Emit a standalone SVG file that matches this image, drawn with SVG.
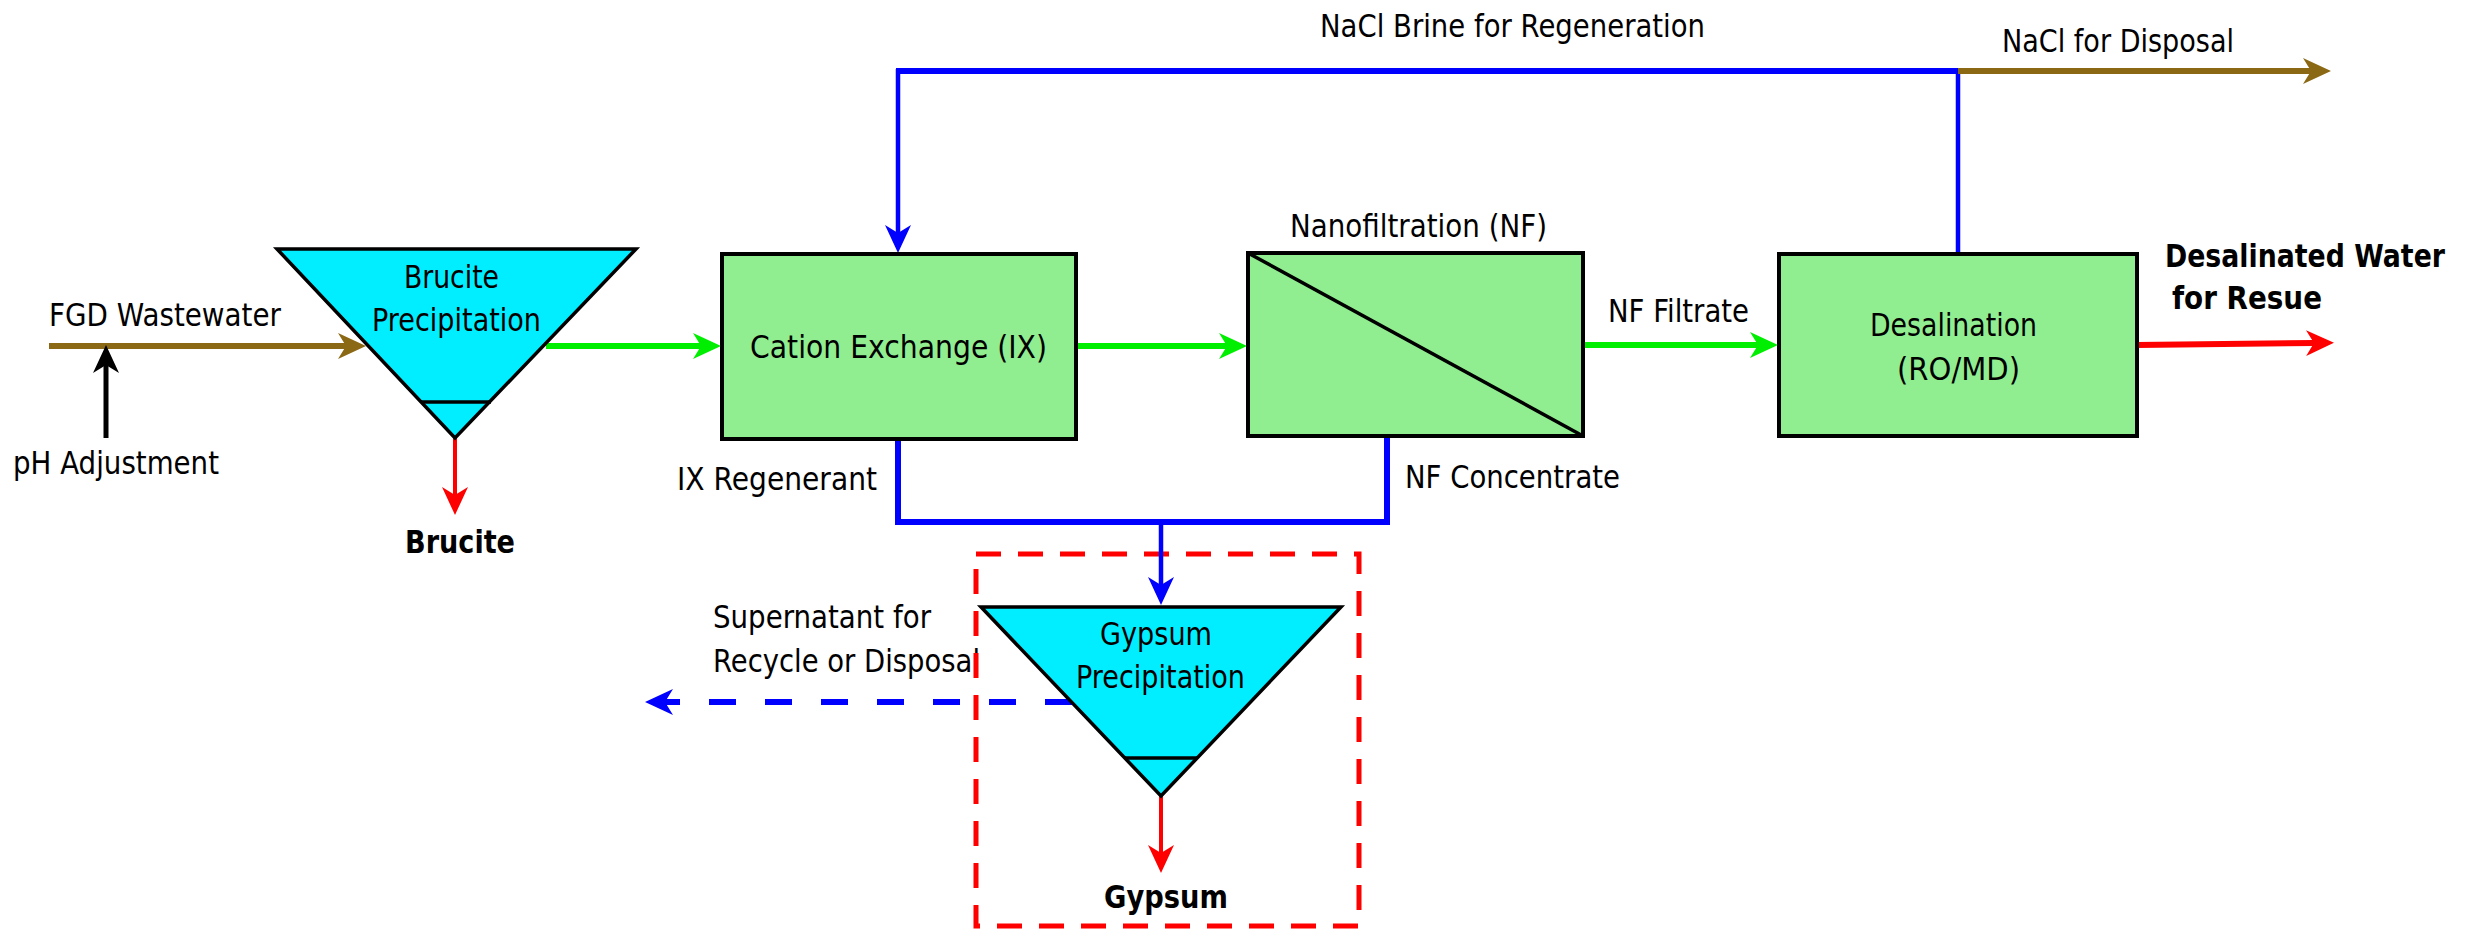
<svg xmlns="http://www.w3.org/2000/svg" width="2483" height="933" viewBox="0 0 2483 933">
<style>
text{font-family:"DejaVu Sans","Liberation Sans",sans-serif;font-size:32px;fill:#000}
.b{font-weight:bold}
.box{fill:#90EE90;stroke:#000;stroke-width:4}
.tank{fill:#00EEFF;stroke:#000;stroke-width:3.5;stroke-linejoin:miter}
.ln{fill:none;stroke:#000;stroke-width:3.5}
.c{fill:none;stroke-linecap:butt;stroke-linejoin:miter}
.blue{stroke:#0000FF}
.green{stroke:#00EE00}
.red{stroke:#FF0000}
.brown{stroke:#8B6914}
.black{stroke:#000}
</style>
<defs>
<marker id="aBlue" markerUnits="userSpaceOnUse" viewBox="0 -14 30 28" markerWidth="30" markerHeight="28" refX="8" refY="0" orient="auto"><path d="M28,0 L0,-13 L8,0 L0,13 Z" fill="#0000FF"/></marker>
<marker id="aGreen" markerUnits="userSpaceOnUse" viewBox="0 -14 30 28" markerWidth="30" markerHeight="28" refX="8" refY="0" orient="auto"><path d="M28,0 L0,-13 L8,0 L0,13 Z" fill="#00EE00"/></marker>
<marker id="aRed" markerUnits="userSpaceOnUse" viewBox="0 -14 30 28" markerWidth="30" markerHeight="28" refX="8" refY="0" orient="auto"><path d="M28,0 L0,-13 L8,0 L0,13 Z" fill="#FF0000"/></marker>
<marker id="aBrown" markerUnits="userSpaceOnUse" viewBox="0 -14 30 28" markerWidth="30" markerHeight="28" refX="8" refY="0" orient="auto"><path d="M28,0 L0,-13 L8,0 L0,13 Z" fill="#8B6914"/></marker>
<marker id="aBlack" markerUnits="userSpaceOnUse" viewBox="0 -14 30 28" markerWidth="30" markerHeight="28" refX="8" refY="0" orient="auto"><path d="M28,0 L0,-13 L8,0 L0,13 Z" fill="#000"/></marker>
</defs>
<rect width="2483" height="933" fill="#fff"/>

<g id="labels-supernatant">
<text x="713" y="628" textLength="218" lengthAdjust="spacingAndGlyphs">Supernatant for</text>
<text x="713" y="672" textLength="267" lengthAdjust="spacingAndGlyphs">Recycle or Disposal</text>
</g>

<g id="gypsum-boundary">
<rect x="976" y="554" width="383" height="372" fill="none" stroke="#FF0000" stroke-width="5" stroke-dasharray="25 17"/>
</g>

<g id="connectors">
<line class="c brown" stroke-width="6" x1="49" y1="346" x2="346" y2="346" marker-end="url(#aBrown)"/>
<line class="c black" stroke-width="5" x1="106" y1="438" x2="106" y2="365" marker-end="url(#aBlack)"/>
<line class="c red" stroke-width="4" x1="455" y1="438" x2="455" y2="495" marker-end="url(#aRed)"/>
<line class="c green" stroke-width="6" x1="546" y1="346" x2="701" y2="346" marker-end="url(#aGreen)"/>
<line class="c green" stroke-width="6" x1="1077" y1="346" x2="1227" y2="346" marker-end="url(#aGreen)"/>
<line class="c green" stroke-width="6" x1="1583" y1="345" x2="1758" y2="345" marker-end="url(#aGreen)"/>
<line class="c red" stroke-width="6" x1="2137" y1="345" x2="2314" y2="343" marker-end="url(#aRed)"/>
<line class="c blue" stroke-width="6" x1="896" y1="71" x2="1958" y2="71"/>
<line class="c blue" stroke-width="4.5" x1="898" y1="69" x2="898" y2="233" marker-end="url(#aBlue)"/>
<line class="c blue" stroke-width="4.5" x1="1958" y1="68" x2="1958" y2="253"/>
<line class="c brown" stroke-width="6" x1="1958" y1="71" x2="2311" y2="71" marker-end="url(#aBrown)"/>
<path class="c blue" stroke-width="6" d="M898,439 V522 H1387 V436"/>
<line class="c blue" stroke-width="4.5" x1="1161" y1="522" x2="1161" y2="585" marker-end="url(#aBlue)"/>
<line class="c red" stroke-width="4" x1="1161" y1="796" x2="1161" y2="853" marker-end="url(#aRed)"/>
<line class="c blue" stroke-width="6" x1="1072" y1="702" x2="665" y2="702" stroke-dasharray="27 29" marker-end="url(#aBlue)"/>
</g>

<g id="brucite-precipitation">
<polygon class="tank" points="277,249 636,249 455,438"/>
<line class="ln" x1="421" y1="402" x2="491" y2="402"/>
<text x="404" y="288" textLength="95" lengthAdjust="spacingAndGlyphs">Brucite</text>
<text x="372" y="331" textLength="169" lengthAdjust="spacingAndGlyphs">Precipitation</text>
</g>

<g id="cation-exchange">
<rect class="box" x="722" y="254" width="354" height="185"/>
<text x="750" y="358" textLength="297" lengthAdjust="spacingAndGlyphs">Cation Exchange (IX)</text>
</g>

<g id="nanofiltration">
<rect class="box" x="1248" y="253" width="335" height="183"/>
<line class="ln" x1="1248" y1="253" x2="1583" y2="436"/>
<text x="1290" y="237" textLength="257" lengthAdjust="spacingAndGlyphs">Nanofiltration (NF)</text>
</g>

<g id="desalination">
<rect class="box" x="1779" y="254" width="358" height="182"/>
<text x="1870" y="336" textLength="167" lengthAdjust="spacingAndGlyphs">Desalination</text>
<text x="1897" y="380" textLength="123" lengthAdjust="spacingAndGlyphs">(RO/MD)</text>
</g>

<g id="gypsum-precipitation">
<polygon class="tank" points="981,607 1341,607 1161,796"/>
<line class="ln" x1="1125" y1="758" x2="1197" y2="758"/>
<text x="1100" y="645" textLength="112" lengthAdjust="spacingAndGlyphs">Gypsum</text>
<text x="1076" y="688" textLength="169" lengthAdjust="spacingAndGlyphs">Precipitation</text>
</g>

<g id="labels">
<text x="49" y="326" textLength="232" lengthAdjust="spacingAndGlyphs">FGD Wastewater</text>
<text x="13" y="474" textLength="206" lengthAdjust="spacingAndGlyphs">pH Adjustment</text>
<text class="b" x="405" y="553" textLength="110" lengthAdjust="spacingAndGlyphs">Brucite</text>
<text x="677" y="490" textLength="200" lengthAdjust="spacingAndGlyphs">IX Regenerant</text>
<text x="1405" y="488" textLength="215" lengthAdjust="spacingAndGlyphs">NF Concentrate</text>
<text x="1320" y="37" textLength="385" lengthAdjust="spacingAndGlyphs">NaCl Brine for Regeneration</text>
<text x="2002" y="52" textLength="232" lengthAdjust="spacingAndGlyphs">NaCl for Disposal</text>
<text x="1608" y="322" textLength="141" lengthAdjust="spacingAndGlyphs">NF Filtrate</text>
<text class="b" x="2165" y="267" textLength="280" lengthAdjust="spacingAndGlyphs">Desalinated Water</text>
<text class="b" x="2172" y="309" textLength="150" lengthAdjust="spacingAndGlyphs">for Resue</text>
<text class="b" x="1104" y="908" textLength="124" lengthAdjust="spacingAndGlyphs">Gypsum</text>
</g>
</svg>
